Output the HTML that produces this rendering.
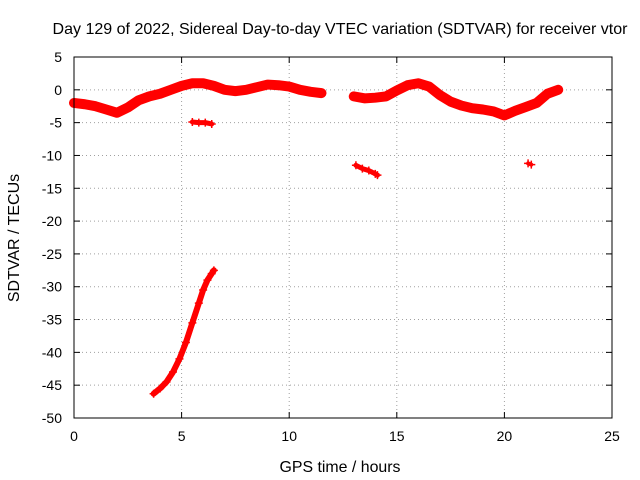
<!DOCTYPE html>
<html><head><meta charset="utf-8"><style>
body{margin:0;background:#fff}
svg{display:block;font-family:"Liberation Sans",sans-serif}
</style></head><body>
<svg id="chart" width="640" height="480">
<rect width="640" height="480" fill="#fff"/>
<text x="340" y="34" text-anchor="middle" font-size="16" textLength="575" lengthAdjust="spacingAndGlyphs">Day 129 of 2022, Sidereal Day-to-day VTEC variation (SDTVAR) for receiver vtor</text>
<text x="340" y="472" text-anchor="middle" font-size="16" textLength="121" lengthAdjust="spacingAndGlyphs">GPS time / hours</text>
<text transform="translate(19,238) rotate(-90)" text-anchor="middle" font-size="16">SDTVAR / TECUs</text>
<g id="grid"></g><g id="axes"></g><g id="series"></g>
<rect x="74" y="57" width="538" height="361" fill="none" stroke="#000"/>
</svg>
<script>
const xTicks=[0,5,10,15,20,25];
const yTicks=[5,0,-5,-10,-15,-20,-25,-30,-35,-40,-45,-50];
const mainT=[0,0.5,1,1.5,2,2.5,3,3.5,4,4.5,5,5.5,6,6.5,7,7.5,8,8.5,9,9.5,10,10.5,11,11.5];
const mainV=[-2,-2.2,-2.5,-3,-3.5,-2.7,-1.6,-1,-0.6,0,0.6,1,1,0.6,0,-0.2,0,0.4,0.8,0.7,0.5,0,-0.3,-0.5];
const main2T=[13,13.5,14,14.5,15,15.5,16,16.5,17,17.5,18,18.5,19,19.5,20,20.5,21,21.5,22,22.5];
const main2V=[-1,-1.3,-1.2,-1,-0.1,0.7,1,0.5,-0.8,-1.8,-2.4,-2.8,-3,-3.3,-3.9,-3.2,-2.6,-2,-0.6,0];
const seg3T=[5.5,5.8,6.1,6.4];
const seg3V=[-4.9,-5,-5,-5.2];
const seg4T=[13.1,13.4,13.7,14,14.1];
const seg4V=[-11.5,-12,-12.3,-12.8,-13];
const seg5T=[21.1,21.25];
const seg5V=[-11.2,-11.4];
const steepT=[3.7,4.0,4.3,4.6,4.9,5.2,5.5,5.8,6.0,6.2,6.4,6.5];
const steepV=[-46.3,-45.5,-44.5,-43,-41,-38.5,-35.5,-32.5,-30.5,-29,-28,-27.5];
const X=v=>74+(v/25)*538;
const Y=v=>57+((5-v)/55)*361;
const NS="http://www.w3.org/2000/svg";
function mk(tag,attrs,parent){const e=document.createElementNS(NS,tag);for(const k in attrs)e.setAttribute(k,attrs[k]);parent.appendChild(e);return e;}
const grid=document.getElementById('grid'),axes=document.getElementById('axes'),ser=document.getElementById('series');
xTicks.forEach(t=>{
 if(t>0&&t<25){const l=mk('line',{x1:X(t),x2:X(t),y1:57,y2:418,stroke:'#a0a0a0','stroke-dasharray':'1,3'},grid);
 
 }
 mk('line',{x1:X(t),x2:X(t),y1:418,y2:412,stroke:'#000'},axes);
 mk('line',{x1:X(t),x2:X(t),y1:57,y2:63,stroke:'#000'},axes);
 const tx=mk('text',{x:X(t),y:441,'text-anchor':'middle','font-size':14},axes);tx.textContent=t;
 
 
});
yTicks.forEach(t=>{
 if(t<5&&t>-50){const l=mk('line',{x1:74,x2:612,y1:Y(t),y2:Y(t),stroke:'#a0a0a0','stroke-dasharray':'1,3'},grid);
 
 }
 mk('line',{x1:74,x2:80,y1:Y(t),y2:Y(t),stroke:'#000'},axes);
 mk('line',{x1:612,x2:606,y1:Y(t),y2:Y(t),stroke:'#000'},axes);
 const tx=mk('text',{x:62,y:Y(t)+5,'text-anchor':'end','font-size':14},axes);tx.textContent=t;
 
 
});
function series(ts,vs,w,name){
 const pts=ts.map((t,i)=>X(t)+','+Y(vs[i])).join(' ');
 const pl=mk('polyline',{points:pts,fill:'none',stroke:'#ff0000','stroke-width':w,'stroke-linejoin':'round','stroke-linecap':'round'},ser);
 
 
 ts.forEach((t,i)=>{const x=X(t),y=Y(vs[i]);
  const p=mk('path',{d:`M${x-4},${y}h8M${x},${y-4}v8`,stroke:'#ff0000','stroke-width':1.5},ser);
  
  });
}
series(mainT,mainV,10,'main-band-series');
series(main2T,main2V,10,'main-band-series-2');
series(seg3T,seg3V,5,'segment-minus5');
series(seg4T,seg4V,5,'segment-minus12');
series(seg5T,seg5V,4,'segment-minus11');
series(steepT,steepV,6,'steep-segment');
</script>
</body></html>
